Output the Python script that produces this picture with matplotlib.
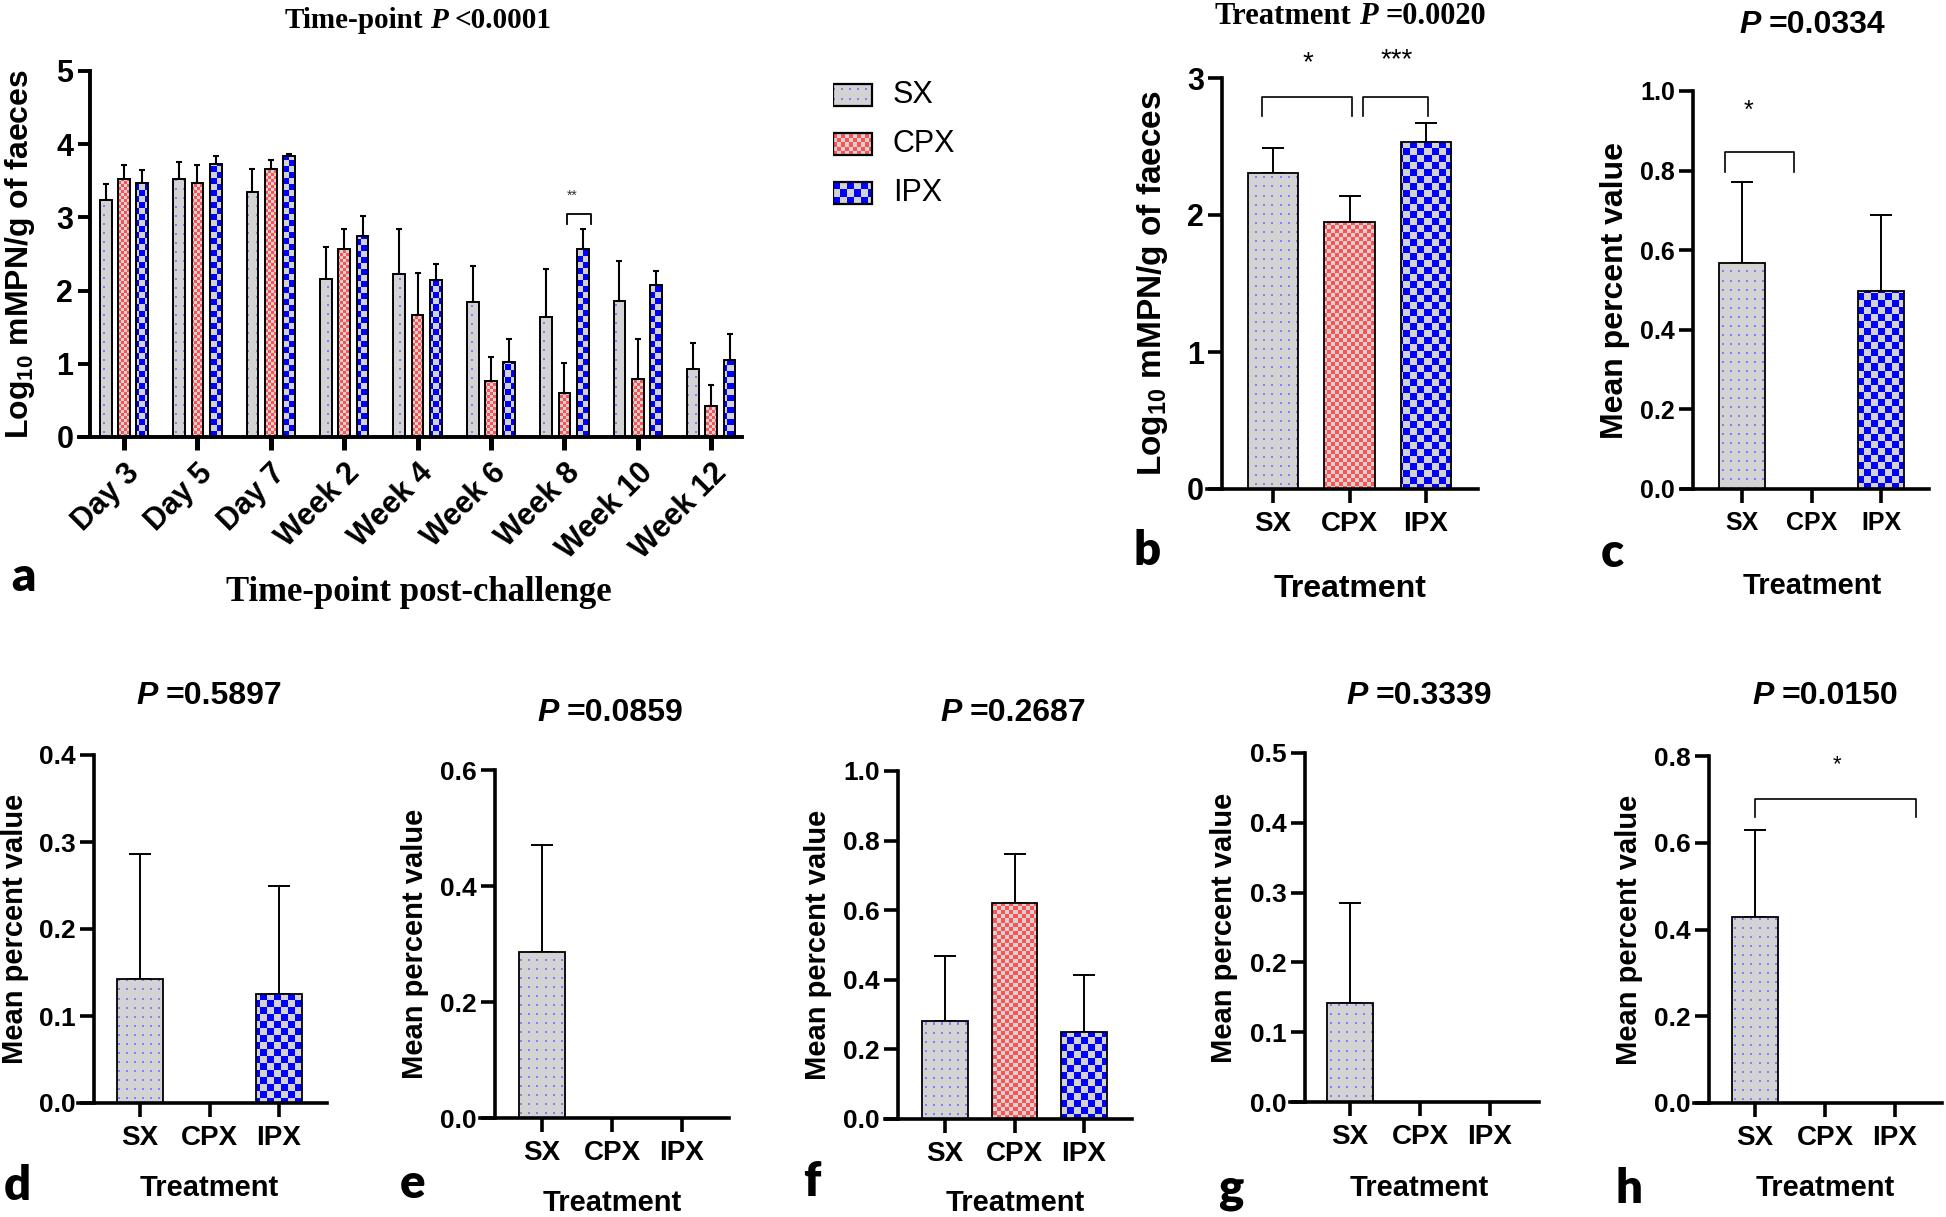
import numpy as np
import matplotlib
matplotlib.use('Agg')
import matplotlib.pyplot as plt

W, H = 1946, 1217
plt.rcParams['font.family'] = 'Liberation Sans'
plt.rcParams['font.weight'] = 'bold'
plt.rcParams['mathtext.default'] = 'regular'

# ---- data ----
groups = ['SX', 'CPX', 'IPX']
timepoints = ['Day 3', 'Day 5', 'Day 7', 'Week 2', 'Week 4', 'Week 6', 'Week 8', 'Week 10', 'Week 12']

# panel a: log10 mMPN/g per time point (mean, SEM)
sx_mean = [3.24, 3.52, 3.35, 2.16, 2.22, 1.84, 1.64, 1.86, 0.93]
sx_sem = [0.21, 0.24, 0.31, 0.43, 0.62, 0.49, 0.65, 0.54, 0.35]
cpx_mean = [3.53, 3.47, 3.66, 2.57, 1.67, 0.76, 0.60, 0.79, 0.42]
cpx_sem = [0.18, 0.24, 0.12, 0.27, 0.57, 0.33, 0.41, 0.55, 0.29]
ipx_mean = [3.47, 3.73, 3.84, 2.74, 2.15, 1.03, 2.57, 2.08, 1.05]
ipx_sem = [0.18, 0.11, 0.03, 0.28, 0.21, 0.31, 0.27, 0.19, 0.36]

# panel b: overall treatment means
b_mean = [2.31, 1.95, 2.53]
b_sem = [0.18, 0.19, 0.14]

# panels c-h: mean percent value per treatment
c_mean = [0.569, 0.0, 0.498]
c_sem = [0.203, 0.0, 0.190]
d_mean = [0.143, 0.0, 0.125]
d_sem = [0.143, 0.0, 0.125]
e_mean = [0.286, 0.0, 0.0]
e_sem = [0.185, 0.0, 0.0]
f_mean = [0.283, 0.622, 0.249]
f_sem = [0.186, 0.140, 0.164]
g_mean = [0.142, 0.0, 0.0]
g_sem = [0.143, 0.0, 0.0]
h_mean = [0.428, 0.0, 0.0]
h_sem = [0.202, 0.0, 0.0]

p_values = {'b': '=0.0020', 'c': '=0.0334', 'd': '=0.5897', 'e': '=0.0859',
            'f': '=0.2687', 'g': '=0.3339', 'h': '=0.0150'}

fig = plt.figure(figsize=(W / 100, H / 100), dpi=100)
GREY = (0.83, 0.83, 0.83)


def pattern(kind, w, h, cell):
    yy, xx = np.mgrid[0:h, 0:w]
    img = np.ones((h, w, 3)) * GREY[0]
    if kind == 'SX':
        dots = (xx % cell < 2) & (yy % (cell + 1) < 2)
        img[dots] = (0.5, 0.5, 1.0)
    elif kind == 'CPX':
        img[((xx // cell + yy // cell) % 2) == 0] = (1.0, 0.32, 0.32)
    else:
        img[((xx // cell + yy // cell) % 2) == 0] = (0.0, 0.0, 1.0)
    return img


def add_bars(ax, x, heights, kinds, width, cells, lw, horizontal=False):
    if horizontal:
        bars = ax.barh(x, heights, height=width, color=GREY, edgecolor='none', zorder=2)
    else:
        bars = ax.bar(x, heights, width, color=GREY, edgecolor='none', zorder=2)
    bb = ax.get_position()
    wpx, hpx = int(round(bb.width * W)), int(round(bb.height * H))
    x0, x1 = ax.get_xlim()
    y0, y1 = ax.get_ylim()
    for bar, k in zip(bars, kinds):
        im = ax.imshow(pattern(k, wpx, hpx, cells[k]), extent=(x0, x1, y0, y1),
                       aspect='auto', interpolation='nearest', zorder=2.5)
        im.set_clip_path(bar)
    ax.set_xlim(x0, x1)
    ax.set_ylim(y0, y1)
    if horizontal:
        ax.barh(x, heights, height=width, fill=False, edgecolor='k', linewidth=lw, zorder=3)
    else:
        ax.bar(x, heights, width, fill=False, edgecolor='k', linewidth=lw, zorder=3)


def add_err(ax, x, means, sems, elw, capsize):
    x, means, sems = np.asarray(x, float), np.asarray(means), np.asarray(sems)
    m = sems > 0
    ax.errorbar(x[m], means[m], yerr=[np.zeros(m.sum()), sems[m]], fmt='none',
                ecolor='k', elinewidth=elw, capsize=capsize, capthick=elw, zorder=1.5)


def make_axes(yaxis, xstart, xend, ytop, ybot, t0, step, ymax, lw=2.6):
    ax = fig.add_axes([xstart / W, 1 - ybot / H, (xend - xstart) / W, (ybot - ytop) / H])
    ax.set_xlim((xstart - t0) / step, (xend - t0) / step)
    ax.set_ylim(0, ymax)
    ax.patch.set_alpha(0)
    for s in ['top', 'right']:
        ax.spines[s].set_visible(False)
    ax.spines['left'].set_position(('data', (yaxis - t0) / step))
    for s in ['left', 'bottom']:
        ax.spines[s].set_linewidth(lw)
    return ax


def mixed(xc, yc, parts, size, family):
    r = fig.canvas.get_renderer()
    gap = 0.25 * size * 100 / 72
    items = []
    for s, style in parts:
        t = fig.text(0, 0, s, fontsize=size, family=family, weight='bold',
                     style=style, va='center', ha='left')
        items.append((t, t.get_window_extent(r).width))
    total = sum(w for _, w in items) + gap * (len(items) - 1)
    x = xc - total / 2
    for t, w in items:
        t.set_position((x / W, 1 - yc / H))
        x += w + gap


def ftext(x, y, s, size, **kw):
    fig.text(x / W, 1 - y / H, s, fontsize=size, ha='center', va='center', **kw)


def letter(x, y, s):
    fig.text(x / W, 1 - y / H, s, fontsize=34, ha='center', va='center',
             family=['Lato', 'DejaVu Sans'], weight='heavy')


def bracket(ax, xa, xb, ytop, ybot, lw=1.2):
    ax.plot([xa, xa, xb, xb], [ybot, ytop, ytop, ybot], color='k', lw=lw, zorder=4, clip_on=False)


# ---- panel a ----
ax = make_axes(90, 79, 742, 71, 437, 124, 73.4, 5, lw=2.8)
xs = np.arange(len(timepoints))
cells_a = {'SX': 8, 'CPX': 3, 'IPX': 6}
for j, (g, mean, sem) in enumerate(zip(groups, [sx_mean, cpx_mean, ipx_mean],
                                       [sx_sem, cpx_sem, ipx_sem])):
    xj = xs + (j - 1) * 0.25
    add_bars(ax, xj, mean, [g] * len(xs), 0.16, cells_a, 1.4)
    add_err(ax, xj, mean, sem, 1.5, 2)
ax.set_yticks(range(6))
ax.set_xticks(xs)
ax.set_xticklabels(timepoints, rotation=45, ha='right', rotation_mode='anchor')
ax.tick_params(axis='y', length=9, width=2.8, labelsize=22, pad=3)
ax.tick_params(axis='x', length=9, width=3.6, labelsize=22, pad=6)
bracket(ax, 6.03, 6.36, 3.05, 2.91, lw=1.3)
ax.text(6.1, 3.29, '**', fontsize=10, weight='normal', ha='center', va='center', color='0.2')
mixed(418, 21, [('Time-point', 'normal'), ('P', 'italic'), ('<0.0001', 'normal')], 21, 'Liberation Serif')
ftext(419, 593, 'Time-point post-challenge', 25, family='Liberation Serif')
ftext(20, 254, 'Log$_{10}$ mMPN/g of faeces', 23, rotation=90)
letter(24, 577, 'a')

# ---- legend ----
lax = fig.add_axes([833 / W, 1 - 217.5 / H, 170 / W, 147 / H])
lax.set_xlim(0, 170)
lax.set_ylim(2.5, -0.5)
lax.axis('off')
add_bars(lax, [0, 1, 2], [39, 39, 39], groups, 0.43, {'SX': 8, 'CPX': 4, 'IPX': 7}, 1.6, horizontal=True)
for i, g in enumerate(groups):
    lax.text(60, i, g, fontsize=22, weight='normal', va='center', ha='left')

# ---- treatment panels ----
cells_b = {'SX': 8, 'CPX': 4, 'IPX': 7}
panels = [
    # key, means, sems, axes geometry, ymax, ytick step, tick/label sizes, title pos, ylabel x, xlabel pos, letter pos
    ('b', b_mean, b_sem, (1222, 1207, 1478, 78, 489, 1273, 76.5), 3, 1, 22, 20, 24, (1350, 16), 1152, (1350, 589), (1147, 551)),
    ('c', c_mean, c_sem, (1693, 1682, 1929, 91, 489, 1742, 69.5), 1.0, 0.2, 18, 18, 23, (1812, 25), 1615, (1812, 586), (1612, 553)),
    ('d', d_mean, d_sem, (94, 78, 327, 755, 1103, 140, 69.5), 0.4, 0.1, 19, 20, 21, (209, 696), 15, (209, 1188), (17, 1186)),
    ('e', e_mean, e_sem, (495, 480, 729, 770, 1118, 542, 70), 0.6, 0.2, 19, 20, 21, (610, 713), 415, (612, 1203), (413, 1184)),
    ('f', f_mean, f_sem, (898, 885, 1132, 771, 1119, 945, 69.5), 1.0, 0.2, 19, 20, 21, (1013, 713), 818, (1015, 1203), (812, 1182)),
    ('g', g_mean, g_sem, (1305, 1290, 1539, 753, 1102, 1350, 70), 0.5, 0.1, 19, 20, 21, (1419, 696), 1224, (1419, 1188), (1231, 1189)),
    ('h', h_mean, h_sem, (1709, 1694, 1942, 756, 1103, 1755, 70), 0.8, 0.2, 19, 20, 21, (1825, 696), 1629, (1825, 1188), (1629, 1189)),
]
axes = {}
for key, mean, sem, geo, ymax, ystep, tsz, xsz, lsz, tpos, ylx, xlpos, letpos in panels:
    ax = make_axes(*geo, ymax)
    axes[key] = ax
    xg = np.arange(3)
    add_bars(ax, xg, mean, groups, 0.66, cells_b, 1.3)
    add_err(ax, xg, mean, sem, 1.4, 8)
    ax.set_yticks(np.round(np.arange(0, ymax + 1e-9, ystep), 2))
    if key != 'b':
        ax.yaxis.set_major_formatter('{x:.1f}')
    ax.set_xticks(xg)
    ax.set_xticklabels(groups)
    ax.tick_params(axis='y', length=10, width=2.6, labelsize=tsz, pad=3)
    ax.tick_params(axis='x', length=10, width=2.6, labelsize=xsz, pad=6)
    ylab = 'Log$_{10}$ mMPN/g of faeces' if key == 'b' else 'Mean percent value'
    ytop, ybot = geo[3], geo[4]
    ftext(ylx, (ytop + ybot) / 2, ylab, lsz, rotation=90)
    if key == 'b':
        mixed(tpos[0], tpos[1], [('Treatment', 'normal'), ('P', 'italic'), (p_values[key], 'normal')], 22, 'Liberation Serif')
    else:
        mixed(tpos[0], tpos[1], [('P', 'italic'), (p_values[key], 'normal')], 23, 'Liberation Sans')
    ftext(xlpos[0], xlpos[1], 'Treatment', 23 if key == 'b' else 21)
    letter(letpos[0], letpos[1], key)

# significance brackets
bracket(axes['b'], -0.14, 1.03, 2.86, 2.72)
bracket(axes['b'], 1.17, 2.03, 2.86, 2.72)
axes['b'].text(0.45, 3.11, '*', fontsize=20, weight='normal', ha='center', va='center')
axes['b'].text(1.62, 3.13, '***', fontsize=20, weight='normal', ha='center', va='center')
bracket(axes['c'], -0.24, 0.75, 0.846, 0.796)
axes['c'].text(0.1, 0.95, '*', fontsize=18, weight='normal', ha='center', va='center')
bracket(axes['h'], 0.0, 2.3, 0.70, 0.66)
axes['h'].text(1.17, 0.78, '*', fontsize=16, weight='normal', ha='center', va='center')

fig.savefig('out.png', dpi=100)
